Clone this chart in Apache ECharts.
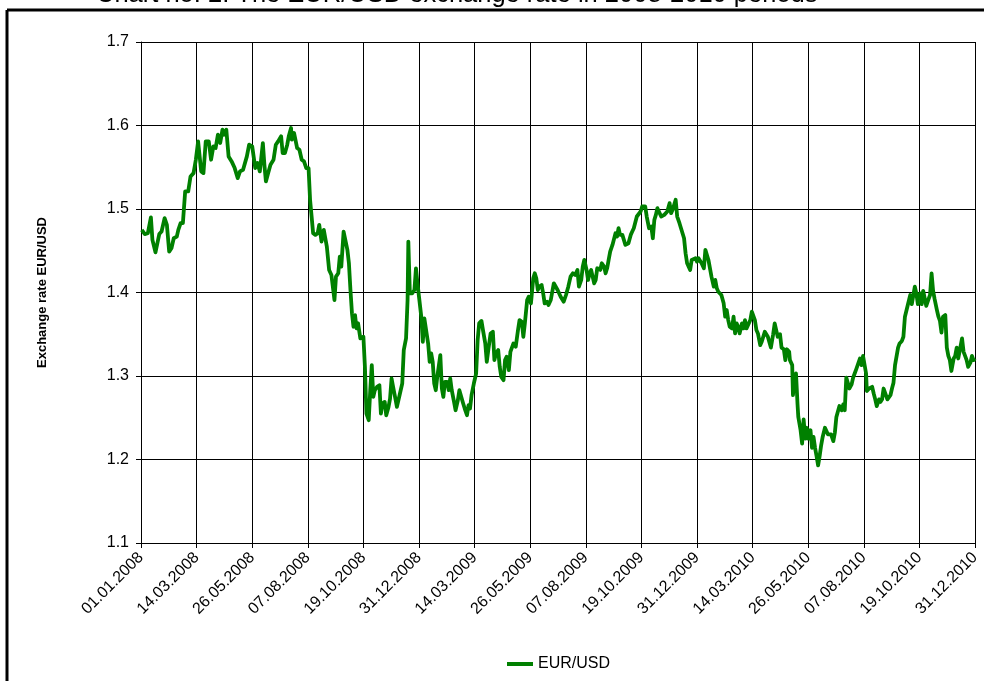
<!DOCTYPE html>
<html>
<head>
<meta charset="utf-8">
<script src="https://cdn.jsdelivr.net/npm/echarts@6/dist/echarts.min.js"></script>
<style>html,body{margin:0;padding:0;background:#fff}#c{width:984px;height:681px}</style>
</head>
<body>
<div id="c"></div>
<script>
const chartTitle = 'Chart no. 2. The EUR/USD exchange rate in 2008-2010 periods';
const seriesName = 'EUR/USD';
const yAxisName = 'Exchange rate EUR/USD';
const tickLabels = ['01.01.2008','14.03.2008','26.05.2008','07.08.2008','19.10.2008','31.12.2008','14.03.2009','26.05.2009','07.08.2009','19.10.2009','31.12.2009','14.03.2010','26.05.2010','07.08.2010','19.10.2010','31.12.2010'];
const yTicks = [1.1, 1.2, 1.3, 1.4, 1.5, 1.6, 1.7];
// day offset from 01.01.2008
const dayOffsets = [
1,5,9,13,15,19,24,27,31,34,37,40,43,47,49,52,55,58,62,65,69,72,75,79,82,85,89,92,95,98,101,104,107,109,112,115,119,123,127,130,134,139,142,146,150,153,156,160,162,164,167,170,174,177,180,184,186,189,192,194,197,198,201,203,205,208,211,214,217,220,222,224,226,229,232,234,237,240,242,244,247,250,254,256,259,261,263,266,268,271,
273,275,277,279,281,283,285,288,290,292,294,296,299,301,303,305,307,310,313,315,317,320,322,325,327,329,331,334,336,338,340,343,345,348,350,351,353,356,359,361,363,365,368,370,372,374,377,379,381,383,385,387,389,393,395,397,399,402,404,406,408,411,413,416,418,420,423,425,428,430,432,434,437,440,442,444,447,449,452,454,456,459,462,464,466,469,471,473,476,478,480,483,485,487,489,492,495,497,500,502,504,507,509,512,515,517,519,521,523,526,528,530,533,535,538,
542,544,547,549,551,553,555,558,561,564,567,570,573,575,578,580,582,585,587,589,591,595,597,599,601,603,605,608,610,612,614,616,619,621,623,625,627,629,632,634,636,638,640,643,645,647,649,651,653,656,658,660,662,664,667,670,672,674,676,678,680,683,685,687,689,691,694,696,698,700,702,704,707,709,711,713,715,717,719,721,723,725,728,730,732,734,736,739,741,743,745,747,749,752,754,756,758,760,762,765,767,769,771,773,776,778,780,782,784,786,789,791,793,795,797,800,802,804,806,808,810,813,815,817,819,
821,823,825,827,830,832,834,836,839,841,844,846,848,851,852,855,856,858,860,862,863,866,868,870,872,874,876,879,881,883,885,887,889,891,893,895,898,900,902,904,906,909,911,913,915,917,920,922,924,926,928,930,933,935,937,939,941,944,946,948,950,952,953,956,958,960,962,964,966,969,971,973,975,977,980,982,984,986,988,990,992,994,996,999,1001,1003,1005,1007,1010,1012,1014,1016,1018,1020,1023,1025,1027,1029,1031,1034,1036,1038,1040,1042,1045,1047,1049,1051,1053,1056,1058,1060,1062,1064,1067,1069,1071,1073,1075,1078,1080,1082,1084,1086,1089,1091,1093,1095
];
const eurUsd = [
1.475,1.470,1.471,1.490,1.463,1.448,1.470,1.473,1.489,1.481,1.449,1.453,1.465,1.467,1.475,1.483,1.483,1.521,1.521,1.539,1.543,1.559,1.581,1.545,1.543,1.581,1.581,1.559,1.575,1.573,1.589,1.579,1.595,1.589,1.595,1.563,1.557,1.549,1.537,1.545,1.547,1.563,1.577,1.575,1.549,1.555,1.545,1.579,1.553,1.533,1.543,1.553,1.559,1.577,1.581,1.587,1.567,1.567,1.577,1.587,1.597,1.583,1.591,1.591,1.573,1.571,1.559,1.557,1.549,1.549,1.511,1.491,1.471,1.469,1.471,1.481,1.461,1.475,1.465,1.455,1.427,1.421,1.391,1.419,1.423,1.443,1.431,1.473,1.471,1.451,
1.435,1.403,1.375,1.359,1.373,1.357,1.363,1.345,1.347,1.347,1.311,1.255,1.247,1.283,1.313,1.275,1.283,1.287,1.289,1.255,1.267,1.269,1.253,1.263,1.273,1.297,1.287,1.273,1.263,1.261,1.279,1.291,1.331,1.345,1.391,1.461,1.399,1.399,1.403,1.429,1.411,1.395,1.371,1.341,1.369,1.367,1.339,1.317,1.327,1.317,1.291,1.283,1.299,1.325,1.285,1.275,1.293,1.293,1.283,1.297,1.283,1.269,1.259,1.271,1.283,1.281,1.267,1.261,1.253,1.265,1.261,1.277,1.291,1.303,1.343,1.363,1.366,1.355,1.339,1.317,1.331,1.351,1.353,1.319,1.327,1.331,1.311,1.299,1.295,1.319,1.323,1.307,1.329,1.327,1.339,1.335,1.355,1.367,1.365,1.347,1.363,1.391,1.395,1.387,1.417,1.423,1.417,1.403,1.407,1.409,1.399,1.387,1.389,1.385,1.391,
1.411,1.409,1.403,1.405,1.395,1.393,1.389,1.397,1.407,1.419,1.423,1.421,1.427,1.407,1.415,1.431,1.439,1.427,1.415,1.423,1.427,1.411,1.415,1.429,1.431,1.427,1.435,1.431,1.423,1.429,1.439,1.449,1.457,1.459,1.471,1.467,1.477,1.469,1.469,1.463,1.457,1.455,1.459,1.469,1.473,1.477,1.475,1.491,1.493,1.497,1.503,1.503,1.503,1.491,1.477,1.479,1.465,1.487,1.493,1.501,1.503,1.491,1.489,1.493,1.491,1.497,1.507,1.495,1.499,1.505,1.511,1.491,1.483,1.477,1.471,1.465,1.447,1.435,1.437,1.427,1.439,1.439,1.441,1.437,1.441,1.439,1.435,1.429,1.451,1.451,1.439,1.437,1.419,1.407,1.415,1.405,1.401,1.399,1.397,1.387,1.371,1.379,1.367,1.359,1.357,1.371,1.351,1.363,1.359,1.351,1.363,1.357,1.367,1.357,1.359,1.367,1.377,1.379,1.367,1.355,1.351,1.337,1.341,1.347,1.353,
1.352,1.347,1.345,1.334,1.350,1.363,1.355,1.347,1.350,1.334,1.332,1.319,1.332,1.329,1.319,1.313,1.277,1.300,1.303,1.266,1.251,1.235,1.219,1.248,1.225,1.238,1.225,1.235,1.214,1.227,1.214,1.204,1.193,1.204,1.217,1.227,1.238,1.238,1.230,1.232,1.230,1.222,1.232,1.251,1.251,1.264,1.259,1.266,1.259,1.298,1.292,1.285,1.290,1.298,1.303,1.308,1.306,1.321,1.313,1.324,1.326,1.303,1.282,1.285,1.287,1.287,1.279,1.272,1.264,1.272,1.269,1.272,1.285,1.287,1.272,1.272,1.277,1.285,1.292,1.313,1.313,1.334,1.339,1.342,1.347,1.371,1.373,1.386,1.397,1.386,1.386,1.407,1.399,1.386,1.399,1.386,1.402,1.402,1.384,1.392,1.397,1.423,1.402,1.392,1.379,1.371,1.366,1.352,1.371,1.373,1.334,1.324,1.319,1.306,1.321,1.324,1.334,1.321,1.321,1.345,1.329,1.324,1.319,1.311,1.316,1.324,1.319,1.321
];

const chart = echarts.init(document.getElementById('c'), null, {renderer: 'canvas'});
const FONT = 'Liberation Sans, Arial, sans-serif';
chart.setOption({
  animation: false,
  backgroundColor: '#fff',
  textStyle: {fontFamily: FONT},
  graphic: [
    {type: 'text', left: 96, top: -18, style: {text: chartTitle, fontSize: 25.5, fontFamily: FONT, fill: '#000'}},
    {type: 'line', shape: {x1: 7, y1: 10, x2: 984, y2: 10}, style: {stroke: '#000', lineWidth: 3}},
    {type: 'line', shape: {x1: 7, y1: 10, x2: 7, y2: 681}, style: {stroke: '#000', lineWidth: 3}}
  ],
  grid: {left: 141, right: 9, top: 42, bottom: 138, containLabel: false},
  legend: {
    data: [{name: seriesName, icon: 'rect'}],
    left: 502, top: 651, itemWidth: 26, itemHeight: 4, itemGap: 5,
    textStyle: {fontSize: 16, color: '#000', fontFamily: FONT}
  },
  xAxis: {
    type: 'value', min: 0, max: 1095, interval: 73,
    axisLine: {show: true, lineStyle: {color: '#000', width: 1}},
    axisTick: {show: true, length: 5, lineStyle: {color: '#000'}},
    splitLine: {show: true, lineStyle: {color: '#000', width: 1}},
    axisLabel: {
      rotate: 45, fontSize: 16, color: '#000', margin: 12, fontFamily: FONT,
      formatter: function (v) { return tickLabels[Math.round(v / 73)] || ''; }
    }
  },
  yAxis: {
    type: 'value', min: yTicks[0], max: yTicks[yTicks.length - 1], interval: 0.1,
    name: yAxisName, nameLocation: 'middle', nameGap: 92,
    nameTextStyle: {fontSize: 13, fontWeight: 'bold', color: '#000', fontFamily: FONT},
    axisLine: {show: true, lineStyle: {color: '#000', width: 1}},
    axisTick: {show: true, length: 5, lineStyle: {color: '#000'}},
    splitLine: {show: true, lineStyle: {color: '#000', width: 1}},
    axisLabel: {fontSize: 16, color: '#000', margin: 12, fontFamily: FONT,
      formatter: function (v) { return v.toFixed(1); }}
  },
  series: [{
    name: seriesName, type: 'line', showSymbol: false, symbol: 'none',
    data: dayOffsets.map(function (d, i) { return [d, eurUsd[i]]; }),
    lineStyle: {color: '#008000', width: 3.8, join: 'round'},
    itemStyle: {color: '#008000'}
  }]
});
</script>
</body>
</html>
